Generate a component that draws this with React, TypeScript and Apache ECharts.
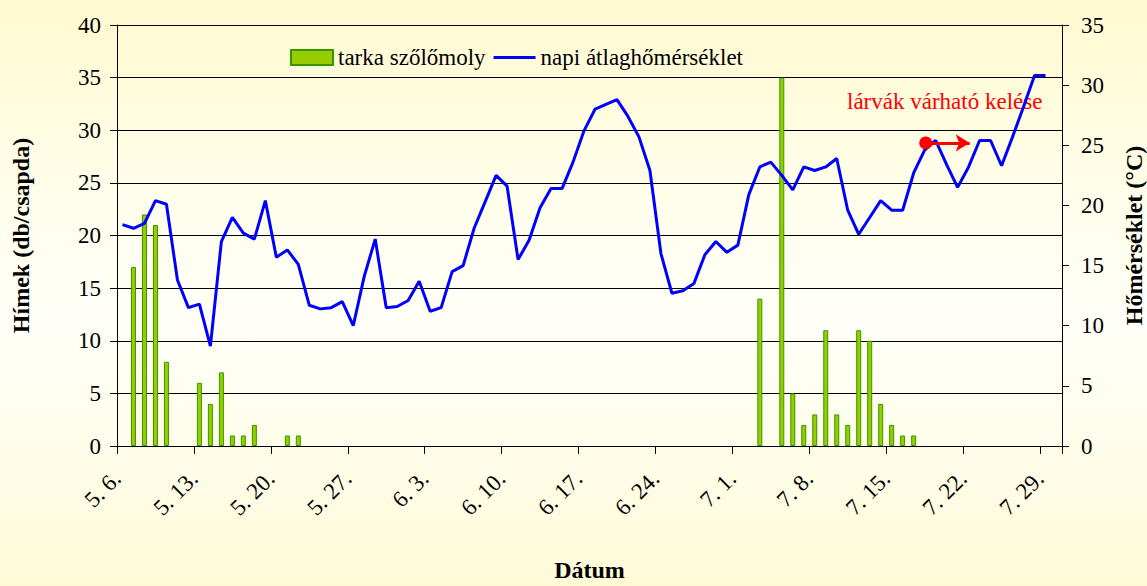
import React, { useEffect, useRef } from "react";
import * as echarts from "echarts";

// Tick labels of the date axis (one every 7 days, starting 5. 6.)
const tickLabels = [
  "5. 6.", "5. 13.", "5. 20.", "5. 27.", "6. 3.", "6. 10.", "6. 17.",
  "6. 24.", "7. 1.", "7. 8.", "7. 15.", "7. 22.", "7. 29.",
];

// Daily moth catches (index 0 = 5. 6.)
const counts = [
  0, 17, 22, 21, 8, 0, 0, 6, 4, 7, 1, 1, 2, 0, 0, 1, 1, 0, 0, 0,
  0, 0, 0, 0, 0, 0, 0, 0, 0, 0, 0, 0, 0, 0, 0, 0, 0, 0, 0, 0,
  0, 0, 0, 0, 0, 0, 0, 0, 0, 0, 0, 0, 0, 0, 0, 0, 0, 0, 14, 0,
  35, 5, 2, 3, 11, 3, 2, 11, 10, 4, 2, 1, 1, 0, 0, 0, 0, 0, 0, 0,
  0, 0, 0, 0, 0,
];

// Daily mean temperature (°C)
const temps = [
  18.4, 18.1, 18.5, 20.4, 20.1, 13.8, 11.5, 11.8, 8.3, 17.0,
  19.0, 17.7, 17.2, 20.4, 15.7, 16.3, 15.1, 11.7, 11.4, 11.5,
  12.0, 10.0, 14.1, 17.2, 11.5, 11.6, 12.1, 13.7, 11.2, 11.5,
  14.5, 15.0, 18.1, 20.3, 22.5, 21.6, 15.5, 17.1, 19.8, 21.4,
  21.4, 23.6, 26.2, 28.0, 28.4, 28.8, 27.4, 25.7, 22.9, 16.0,
  12.7, 12.9, 13.5, 15.9, 17.0, 16.1, 16.7, 20.9, 23.2, 23.6,
  22.5, 21.3, 23.2, 22.9, 23.2, 23.9, 19.6, 17.6, 19.0, 20.4,
  19.6, 19.6, 22.7, 24.6, 25.4, 23.4, 21.5, 23.2, 25.4, 25.4,
  23.3, 25.7, 28.2, 30.8, 30.8,
];

// Annotation: arrow start/end (day position) and temperature level
const arrowFrom = [73.6, 25.2];
const arrowTo = [77.6, 25.2];
const annotationText = "lárvák várható kelése";

const FONT = "'Liberation Serif', 'Times New Roman', serif";
const FS = 23;

export default function App() {
  const ref = useRef<HTMLDivElement>(null);

  useEffect(() => {
    document.body.style.margin = "0";
    if (!ref.current) return;
    const chart = echarts.init(ref.current, undefined, { renderer: "svg" });
    const barData = counts
      .map((v, i) => [i + 0.5, v])
      .filter((d) => d[1] > 0);
    const lineData = temps.map((v, i) => [i + 0.5, v]);

    const nameStyle = { fontSize: 24, fontWeight: "bold", fontFamily: FONT, color: "#000" };

    chart.setOption({
      animation: false,
      backgroundColor: "transparent",
      textStyle: { fontFamily: FONT, color: "#000" },
      grid: {
        left: 117,
        right: 85,
        top: 25,
        bottom: 140,
        containLabel: false,
        outerBoundsMode: "none",
      },
      legend: {
        left: 285,
        top: 41,
        itemWidth: 42,
        itemHeight: 15,
        itemGap: 8,
        textStyle: { fontSize: FS, fontFamily: FONT, color: "#000" },
        data: [
          { name: "tarka szőlőmoly", icon: "rect" },
          {
            name: "napi átlaghőmérséklet",
            icon: "path://M0,0 L0,0 M0,6 L42,6 L42,9 L0,9 Z M42,15 L42,15",
          },
        ],
      },
      xAxis: {
        type: "value",
        min: 0,
        max: 86,
        interval: 7,
        name: "Dátum",
        nameLocation: "middle",
        nameGap: 112,
        nameTextStyle: nameStyle,
        axisLine: { show: true, lineStyle: { color: "#000", width: 1 } },
        axisTick: { show: true, length: 8, lineStyle: { color: "#000" } },
        splitLine: { show: false },
        axisLabel: {
          rotate: 45,
          margin: 29,
          fontSize: FS,
          fontFamily: FONT,
          color: "#000",
          formatter: (v: number) =>
            Math.round(v) % 7 === 0 && Math.round(v) / 7 < tickLabels.length
              ? tickLabels[Math.round(v) / 7]
              : "",
        },
      },
      yAxis: [
        {
          type: "value",
          min: 0,
          max: 40,
          interval: 5,
          position: "left",
          name: "Hímek (db/csapda)",
          nameLocation: "middle",
          nameGap: 84,
          nameTextStyle: nameStyle,
          axisLine: { show: true, lineStyle: { color: "#000", width: 1 } },
          axisTick: { show: true, length: 7, lineStyle: { color: "#000" } },
          splitLine: { show: true, lineStyle: { color: "#000", width: 1 } },
          axisLabel: { fontSize: FS, fontFamily: FONT, color: "#000", margin: 16 },
        },
        {
          type: "value",
          min: 0,
          max: 35,
          interval: 5,
          position: "right",
          name: "Hőmérséklet (°C)",
          nameLocation: "middle",
          nameGap: 60,
          nameTextStyle: nameStyle,
          axisLine: { show: true, lineStyle: { color: "#000", width: 1 } },
          axisTick: { show: true, length: 7, lineStyle: { color: "#000" } },
          splitLine: { show: false },
          axisLabel: { fontSize: FS, fontFamily: FONT, color: "#000", margin: 19 },
        },
      ],
      series: [
        {
          name: "tarka szőlőmoly",
          type: "bar",
          yAxisIndex: 0,
          barWidth: 5,
          data: barData,
          itemStyle: { color: "#99CC00", borderColor: "#339900", borderWidth: 1 },
        },
        {
          name: "napi átlaghőmérséklet",
          type: "line",
          yAxisIndex: 1,
          data: lineData,
          symbol: "none",
          color: "#0000FF",
          lineStyle: { color: "#0000FF", width: 3 },
          markLine: {
            silent: true,
            symbol: ["circle", "arrow"],
            symbolSize: [13, 14],
            label: { show: false },
            lineStyle: { color: "#FF0000", width: 3, type: "solid" },
            itemStyle: { color: "#FF0000" },
            data: [[{ coord: arrowFrom }, { coord: arrowTo }]],
          },
        },
      ],
      graphic: [
        {
          type: "text",
          left: 847,
          top: 90,
          style: {
            text: annotationText,
            fill: "#FF0000",
            fontSize: FS,
            fontFamily: FONT,
          },
        },
      ],
    });
    return () => chart.dispose();
  }, []);

  return (
    <div
      ref={ref}
      style={{
        width: 1147,
        height: 586,
        background:
          "linear-gradient(180deg, #FFFAD0 0%, #FFFEEC 35%, #FFFFF8 55%, #FFFCE4 85%, #FFFAD6 100%)",
      }}
    />
  );
}
